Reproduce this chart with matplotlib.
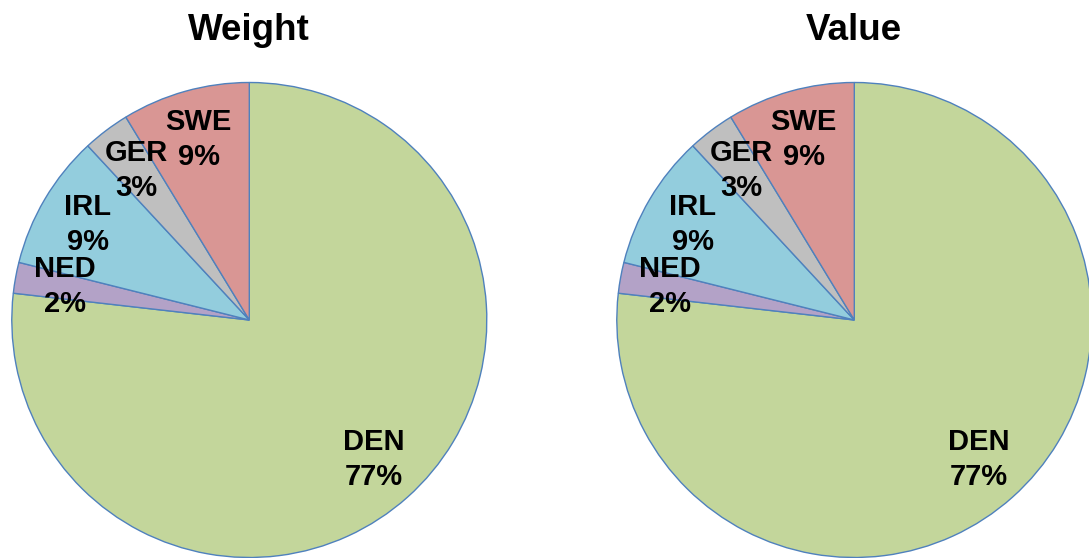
import numpy as np
import matplotlib
matplotlib.use("Agg")
import matplotlib.pyplot as plt

plt.rcParams['font.family'] = ['Liberation Sans', 'DejaVu Sans']

# data (shares in %)
countries = ['DEN', 'NED', 'IRL', 'GER', 'SWE']
weight = [76.8, 2.1, 9.2, 3.2, 8.7]
value = [76.8, 2.1, 9.2, 3.2, 8.7]
titles = ['Weight', 'Value']
colors = ['#c3d69b', '#b3a2c7', '#93cddd', '#bfbfbf', '#d99694']
edge = '#4f81bd'

W, H = 1089, 558
fig = plt.figure(figsize=(W / 100, H / 100), dpi=100)

r_px = 237.5
centers = [(249.3, 320), (854.3, 320)]  # pixel, from top-left

for (cx, cy), title, vals in zip(centers, titles, [weight, value]):
    ax = fig.add_axes([(cx - r_px) / W, (H - cy - r_px) / H, 2 * r_px / W, 2 * r_px / H])
    wedges, _ = ax.pie(vals, colors=colors, startangle=90, counterclock=False,
                       wedgeprops=dict(edgecolor=edge, linewidth=1.0))
    tot = sum(vals)
    for w, name, v in zip(wedges, countries, vals):
        mid = np.deg2rad((w.theta1 + w.theta2) / 2)
        d = 0.79
        ax.text(d * np.cos(mid), d * np.sin(mid), f"{name}\n{v / tot * 100:.0f}%",
                ha='center', va='center', fontsize=21, fontweight='bold',
                linespacing=1.32)
    ax.set_xlim(-1, 1)
    ax.set_ylim(-1, 1)
    ax.set_aspect('equal')
    ax.axis('off')
    fig.text(cx / W, 1 - 30 / H, title, ha='center', va='center',
             fontsize=26.5, fontweight='bold')

fig.savefig('out.png', dpi=100)
